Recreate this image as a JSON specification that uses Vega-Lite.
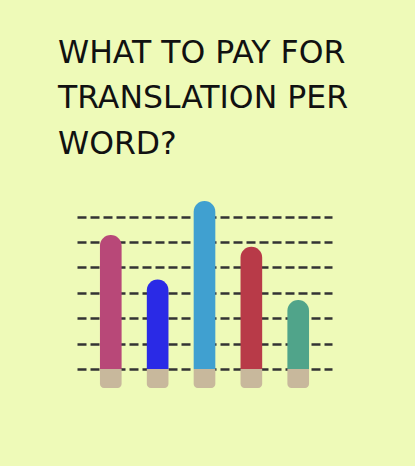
{
  "$schema": "https://vega.github.io/schema/vega-lite/v6.json",
  "autosize": {"type": "none"},
  "width": 255,
  "height": 193,
  "padding": {"left": 77, "top": 195, "right": 83, "bottom": 78},
  "background": "#eefab8",
  "title": {
    "text": ["WHAT TO PAY FOR", "TRANSLATION PER", "WORD?"],
    "anchor": "start",
    "frame": "group",
    "font": "DejaVu Sans",
    "fontSize": 31.5,
    "fontWeight": "normal",
    "color": "#111111",
    "lineHeight": 45.5,
    "baseline": "alphabetic",
    "offset": 39,
    "dx": -19,
    "dy": 29
  },
  "config": {"view": {"stroke": null}},
  "data": {
    "values": [
      {"item": "A", "value": 5.28, "color": "#b84878"},
      {"item": "B", "value": 3.52, "color": "#2a2ae6"},
      {"item": "C", "value": 6.61, "color": "#40a0d0"},
      {"item": "D", "value": 4.81, "color": "#b83a48"},
      {"item": "E", "value": 2.72, "color": "#50a48a"}
    ]
  },
  "encoding": {
    "x": {
      "field": "item",
      "type": "nominal",
      "axis": null,
      "scale": {"paddingInner": 0.538, "paddingOuter": 0.49}
    }
  },
  "layer": [
    {
      "mark": {
        "type": "bar",
        "color": "#c8b89c",
        "cornerRadiusBottomLeft": 4,
        "cornerRadiusBottomRight": 4
      },
      "encoding": {
        "y": {
          "datum": -0.748,
          "type": "quantitative",
          "scale": {"domain": [-0.748, 6.85], "nice": false, "zero": false},
          "axis": {
            "values": [0, 1, 2, 3, 4, 5, 6],
            "tickCount": 7,
            "grid": true,
            "gridDash": [9, 4],
            "gridColor": "#333333",
            "gridWidth": 2.6,
            "gridOpacity": 1,
            "domain": false,
            "ticks": false,
            "labels": false,
            "title": null
          }
        },
        "y2": {"datum": 0}
      }
    },
    {
      "mark": {
        "type": "bar",
        "cornerRadiusTopLeft": 10.75,
        "cornerRadiusTopRight": 10.75
      },
      "encoding": {
        "y": {
          "field": "value",
          "type": "quantitative",
          "axis": {
            "values": [0, 1, 2, 3, 4, 5, 6],
            "tickCount": 7,
            "grid": true,
            "gridDash": [9, 4],
            "gridColor": "#333333",
            "gridWidth": 2.6,
            "gridOpacity": 1,
            "domain": false,
            "ticks": false,
            "labels": false,
            "title": null
          }
        },
        "y2": {"datum": 0},
        "color": {"field": "color", "type": "nominal", "scale": null, "legend": null}
      }
    }
  ]
}
